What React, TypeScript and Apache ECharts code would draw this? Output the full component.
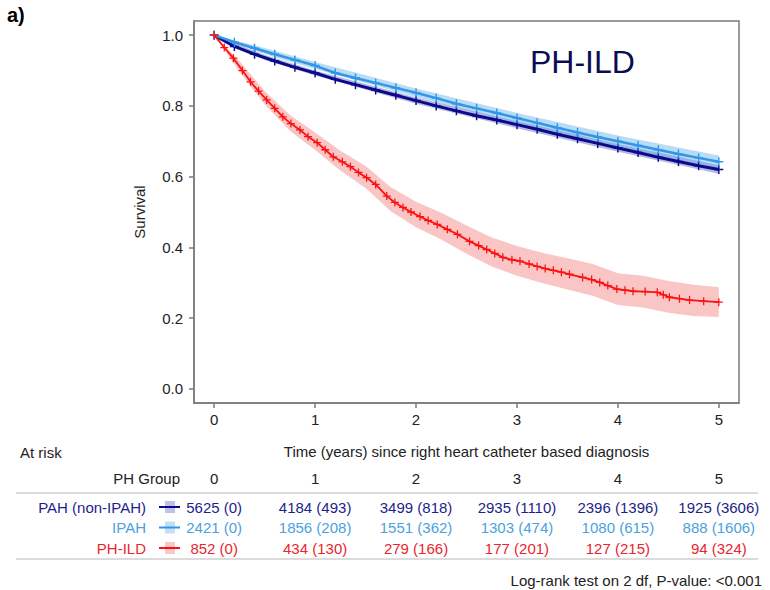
import React, { useEffect, useRef } from "react";
import * as echarts from "echarts";

const FONT = "Liberation Sans, Arial, Helvetica, sans-serif";

// ---- Kaplan-Meier curves ----
const pahTime = [0, 0.2, 0.4, 0.6, 0.8, 1.0, 1.2, 1.4, 1.6, 1.8, 2.0, 2.2, 2.4, 2.6, 2.8, 3.0, 3.2, 3.4, 3.6, 3.8, 4.0, 4.2, 4.4, 4.6, 4.8, 5.0];
const pahSurv = [1.0, 0.968, 0.946, 0.927, 0.909, 0.893, 0.875, 0.86, 0.845, 0.83, 0.815, 0.8, 0.786, 0.772, 0.76, 0.747, 0.734, 0.72, 0.707, 0.694, 0.681, 0.668, 0.655, 0.643, 0.631, 0.62];
const ipahTime = pahTime;
const ipahSurv = [1.0, 0.98, 0.963, 0.946, 0.93, 0.914, 0.893, 0.879, 0.865, 0.851, 0.837, 0.822, 0.806, 0.793, 0.78, 0.766, 0.752, 0.738, 0.725, 0.712, 0.7, 0.688, 0.676, 0.664, 0.653, 0.642];
const ildTime = [0, 0.1, 0.19, 0.28, 0.36, 0.44, 0.52, 0.6, 0.68, 0.76, 0.85, 0.93, 1.02, 1.1, 1.18, 1.27, 1.35, 1.43, 1.51, 1.6, 1.71, 1.79, 1.87, 1.95, 2.04, 2.12, 2.21, 2.31, 2.41, 2.53, 2.62, 2.7, 2.78, 2.86, 2.95, 3.03, 3.12, 3.2, 3.28, 3.36, 3.44, 3.52, 3.65, 3.74, 3.82, 3.9, 3.99, 4.07, 4.15, 4.27, 4.39, 4.45, 4.51, 4.61, 4.71, 4.85, 5.0];
const ildSurv = [1.0, 0.965, 0.935, 0.9, 0.868, 0.842, 0.817, 0.793, 0.769, 0.75, 0.732, 0.713, 0.696, 0.676, 0.656, 0.642, 0.628, 0.612, 0.597, 0.578, 0.545, 0.527, 0.513, 0.5, 0.487, 0.476, 0.465, 0.451, 0.437, 0.417, 0.405, 0.394, 0.383, 0.372, 0.365, 0.361, 0.353, 0.346, 0.34, 0.335, 0.33, 0.324, 0.315, 0.309, 0.301, 0.292, 0.282, 0.279, 0.276, 0.275, 0.273, 0.266, 0.259, 0.255, 0.251, 0.248, 0.245];

// ---- confidence bands ----
const blueBandTime = [0, 0.5, 1, 2, 3, 4, 5];
const pahLower = [1.0, 0.93, 0.886, 0.806, 0.737, 0.67, 0.608];
const pahUpper = [1.0, 0.944, 0.9, 0.824, 0.757, 0.692, 0.632];
const ipahLower = [1.0, 0.946, 0.904, 0.825, 0.752, 0.684, 0.624];
const ipahUpper = [1.0, 0.964, 0.924, 0.849, 0.78, 0.716, 0.66];
const ildBandTime = [0, 0.25, 0.5, 0.75, 1, 1.25, 1.5, 1.75, 2, 2.25, 2.5, 2.75, 3, 3.25, 3.5, 3.75, 4, 4.25, 4.5, 4.75, 5];
const ildLower = [1.0, 0.897, 0.804, 0.73, 0.675, 0.617, 0.568, 0.502, 0.457, 0.422, 0.382, 0.346, 0.32, 0.299, 0.281, 0.263, 0.237, 0.23, 0.215, 0.206, 0.203];
const ildUpper = [1.0, 0.927, 0.842, 0.774, 0.725, 0.673, 0.63, 0.57, 0.529, 0.498, 0.462, 0.428, 0.404, 0.385, 0.369, 0.353, 0.327, 0.32, 0.305, 0.294, 0.287];

// ---- axis ticks ----
const xTicks = [0, 1, 2, 3, 4, 5];
const yTicks = [0, 0.2, 0.4, 0.6, 0.8, 1.0];

// ---- at-risk table ----
const groupNames = ["PAH (non-IPAH)", "IPAH", "PH-ILD"];
const pahAtRisk = [5625, 4184, 3499, 2935, 2396, 1925];
const pahCensored = [0, 493, 818, 1110, 1396, 3606];
const ipahAtRisk = [2421, 1856, 1551, 1303, 1080, 888];
const ipahCensored = [0, 208, 362, 474, 615, 1606];
const ildAtRisk = [852, 434, 279, 177, 127, 94];
const ildCensored = [0, 130, 166, 201, 215, 324];

const NAVY = "#0a0a8c";
const LBLUE = "#2f97e6";
const RED = "#ff1010";
const NAVY_T = "#1e1e8c";
const LBLUE_T = "#4aa2de";
const RED_T = "#e8262e";

const PLUS = "path://M4.2,0h1.6v4.2h4.2v1.6h-4.2v4.2h-1.6v-4.2h-4.2v-1.6h4.2z";

function zip(a: number[], b: number[]) {
  return a.map((v, i) => [v, b[i]]);
}

function bandSeries(times: number[], lo: number[], hi: number[], fill: string) {
  return {
    type: "custom",
    silent: true,
    z: 1,
    clip: true,
    data: [[0, 0]],
    renderItem: (_p: any, api: any) => {
      const pts: number[][] = [];
      for (let i = 0; i < times.length; i++) pts.push(api.coord([times[i], hi[i]]));
      for (let i = times.length - 1; i >= 0; i--) pts.push(api.coord([times[i], lo[i]]));
      return { type: "polygon", shape: { points: pts }, style: { fill } };
    },
  };
}

function kmSeries(name: string, times: number[], surv: number[], color: string, width: number, size: number) {
  return {
    name,
    type: "line",
    z: 3,
    data: zip(times, surv),
    showSymbol: true,
    showAllSymbol: true,
    symbol: PLUS,
    symbolSize: size,
    lineStyle: { color, width },
    itemStyle: { color },
    silent: true,
  };
}

export default function App() {
  const ref = useRef<HTMLDivElement>(null);
  useEffect(() => {
    document.body.style.margin = "0";
    const chart = echarts.init(ref.current!, null, { renderer: "svg" });
    const axisColor = "#7a7a7a";
    chart.setOption({
      animation: false,
      textStyle: { fontFamily: FONT },
      grid: { left: 194, top: 21, width: 545, height: 382, show: true, borderColor: axisColor, borderWidth: 1.5, backgroundColor: "transparent" },
      xAxis: {
        type: "value",
        min: -0.2,
        max: 5.2,
        name: "Time (years) since right heart catheter based diagnosis",
        nameLocation: "middle",
        nameGap: 41,
        nameTextStyle: { fontSize: 15, color: "#222", fontFamily: FONT },
        axisLine: { show: true, onZero: false, lineStyle: { color: axisColor, width: 1.5 } },
        axisTick: { show: true, length: 5, customValues: xTicks, lineStyle: { color: axisColor, width: 1.5 } },
        axisLabel: { customValues: xTicks, fontSize: 15, color: "#222", margin: 9, fontFamily: FONT, formatter: (v: number) => String(v) },
        splitLine: { show: false },
      },
      yAxis: {
        type: "value",
        min: -0.04,
        max: 1.04,
        name: "Survival",
        nameLocation: "middle",
        nameGap: 47,
        nameTextStyle: { fontSize: 15, color: "#222", fontFamily: FONT },
        axisLine: { show: true, onZero: false, lineStyle: { color: axisColor, width: 1.5 } },
        axisTick: { show: true, length: 5, customValues: yTicks, lineStyle: { color: axisColor, width: 1.5 } },
        axisLabel: { customValues: yTicks, fontSize: 15, color: "#222", margin: 11, fontFamily: FONT, formatter: (v: number) => v.toFixed(1) },
        splitLine: { show: false },
      },
      series: [
        bandSeries(ildBandTime, ildLower, ildUpper, "rgba(244,150,150,0.55)"),
        bandSeries(blueBandTime, pahLower, pahUpper, "rgba(50,50,170,0.35)"),
        bandSeries(blueBandTime, ipahLower, ipahUpper, "rgba(100,175,235,0.45)"),
        kmSeries("PAH (non-IPAH)", pahTime, pahSurv, NAVY, 3, 9),
        kmSeries("IPAH", ipahTime, ipahSurv, LBLUE, 2.5, 9),
        kmSeries("PH-ILD", ildTime, ildSurv, RED, 1.8, 8),
      ],
    });

    const colX = xTicks.map((t) => chart.convertToPixel({ xAxisIndex: 0 }, t) as number);
    const txt = (text: string, x: number, y: number, fill: string, align = "center", extra: any = {}) => ({
      type: "text",
      x,
      y,
      silent: true,
      style: { text, fill, align, verticalAlign: "middle", fontSize: 15, fontFamily: FONT, ...extra },
    });
    const rowY = [507, 527.5, 548];
    const rowColors = [NAVY_T, LBLUE_T, RED_T];
    const iconFill = ["rgba(120,120,200,0.45)", "rgba(120,185,235,0.45)", "rgba(240,130,130,0.45)"];
    const iconLine = [NAVY, LBLUE, RED];
    const atRisk = [pahAtRisk, ipahAtRisk, ildAtRisk];
    const censored = [pahCensored, ipahCensored, ildCensored];

    const els: any[] = [];
    els.push(txt("a)", 7, 15, "#000", "left", { fontSize: 20, fontWeight: "bold" }));
    els.push(txt("PH-ILD", 530, 62, "#0b0b55", "left", { fontSize: 32 }));
    els.push(txt("At risk", 20, 452, "#222", "left"));
    els.push(txt("PH Group", 180, 478, "#222", "right"));
    xTicks.forEach((t, i) => els.push(txt(String(t), colX[i], 478, "#222")));
    els.push({ type: "line", silent: true, shape: { x1: 16, y1: 493, x2: 758, y2: 493 }, style: { stroke: "#cfcfcf", lineWidth: 1.5 } });
    els.push({ type: "line", silent: true, shape: { x1: 16, y1: 559, x2: 758, y2: 559 }, style: { stroke: "#cfcfcf", lineWidth: 1.5 } });
    groupNames.forEach((g, r) => {
      const y = rowY[r];
      els.push(txt(g, 146, y, rowColors[r], "right"));
      els.push({ type: "rect", silent: true, shape: { x: 165, y: y - 6, width: 10, height: 12 }, style: { fill: iconFill[r] } });
      els.push({ type: "line", silent: true, shape: { x1: 159, y1: y, x2: 180, y2: y }, style: { stroke: iconLine[r], lineWidth: 2 } });
      xTicks.forEach((_t, i) => {
        els.push(txt(`${atRisk[r][i]} (${censored[r][i]})`, colX[i], y, rowColors[r]));
      });
    });
    els.push(txt("Log-rank test on 2 df, P-value: <0.001", 762, 580, "#222", "right"));
    chart.setOption({ graphic: els });

    return () => chart.dispose();
  }, []);
  return <div ref={ref} style={{ width: 770, height: 590 }} />;
}
